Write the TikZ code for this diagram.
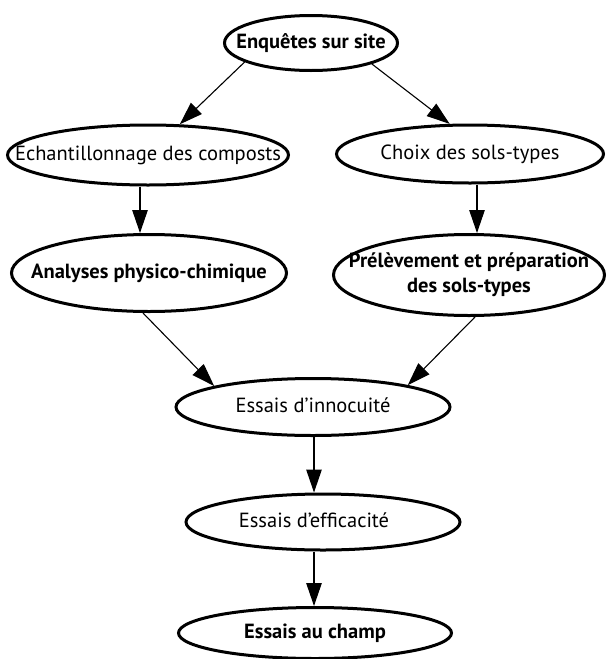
\documentclass[tikz,border=0pt]{standalone}
\usepackage{fontspec}
\setmainfont{PT Sans}
\usetikzlibrary{shapes.geometric,arrows.meta}
\newcommand\ctext[1]{\makebox[0pt]{\begin{tabular}{@{}c@{}}#1\end{tabular}}}
\begin{document}
\begin{tikzpicture}[x=1pt,y=-1pt,
  box/.style={ellipse, draw=black, line width=3pt, inner sep=0pt, font=\fontsize{20.5}{25}\selectfont},
  boldbox/.style={box, font=\fontsize{20.5}{25}\selectfont\bfseries},
  arr/.style={line width=1.1pt, -{Triangle[length=23pt,width=15.5pt]}}]
\useasboundingbox (0,0) rectangle (607,659);
\node[boldbox, minimum width=173pt, minimum height=55pt] (enq) at (311,43) {\ctext{Enquêtes sur site}};
\node[box, minimum width=281pt, minimum height=60pt] (ech) at (148,155) {\ctext{Échantillonnage des composts}};
\node[box, minimum width=267pt, minimum height=58pt] (choix) at (470,154) {\ctext{Choix des sols-types}};
\node[boldbox, minimum width=275pt, minimum height=77pt] (ana) at (149,273) {\ctext{Analyses physico-chimique}};
\node[boldbox, minimum width=271pt, minimum height=81pt] (prel) at (469,275) {\ctext{Prélèvement et préparation\\des sols-types}};
\node[box, minimum width=274pt, minimum height=57pt] (inn) at (313,407) {\ctext{Essais d’innocuité}};
\node[box, minimum width=274pt, minimum height=56pt] (eff) at (323,522) {\ctext{\kern-18pt Essais d’efficacité}};
\node[boldbox, minimum width=273pt, minimum height=51pt] (champ) at (315,633) {\ctext{Essais au champ}};
\draw[arr] (enq.196) -- (ech.44);
\draw[arr] (enq.341) -- (choix.124);
\draw[arr] ([xshift=-8pt]ech.south) -- ([xshift=-9pt]ana.north);
\draw[arr] ([xshift=7pt]choix.south) -- ([xshift=8pt]prel.north);
\draw[arr] ([xshift=-6pt]ana.south) -- (inn.168);
\draw[arr] ([xshift=6pt]prel.south) -- (inn.13);
\draw[arr] ([xshift=1pt]inn.south) -- ([xshift=-9pt]eff.north);
\draw[arr] ([xshift=-9pt]eff.south) -- ([xshift=-1pt]champ.north);
\end{tikzpicture}
\end{document}
